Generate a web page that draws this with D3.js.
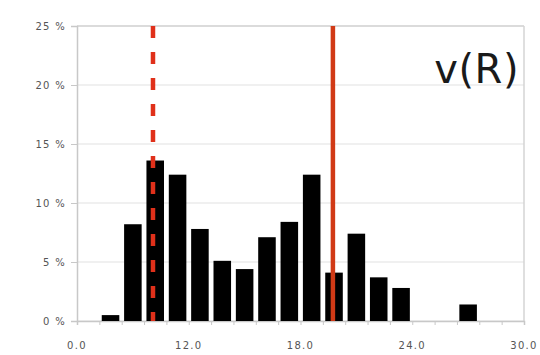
<!DOCTYPE html>
<html>
<head>
  <meta charset="utf-8">
  <title>v(R)</title>
  <script src="https://d3js.org/d3.v7.min.js"></script>
  <style>
    body { margin: 0; background: #fff; }
    svg { display: block; }
  </style>
</head>
<body>
  <div id="chart"></div>

  <script>
    // histogram bins (20 bins), share in percent
    var binShares = [0, 0.5, 8.2, 13.6, 12.4, 7.8, 5.1, 4.4, 7.1, 8.4,
                     12.4, 4.1, 7.4, 3.7, 2.8, 0, 0, 1.4, 0, 0];
    var yTicks = [0, 5, 10, 15, 20, 25];
    var xTickBins = [0, 5, 10, 15, 20];
    var xTickLabels = ['0.0', '12.0', '18.0', '24.0', '30.0'];
    // reference lines, in bin units: dashed then solid
    var refLines = [3.4, 11.45];
    var title = 'v(R)';

    var W = 540, H = 355;
    var margin = { top: 26, right: 16, bottom: 34, left: 77 };
    var width = W - margin.left - margin.right;
    var height = H - margin.top - margin.bottom;

    var svg = d3.select('#chart').append('svg')
      .attr('width', W)
      .attr('height', H);
    var g = svg.append('g')
      .attr('transform', 'translate(' + margin.left + ',' + margin.top + ')');

    var x = d3.scaleLinear().domain([0, binShares.length]).range([0, width]);
    var y = d3.scaleLinear().domain([0, 25]).range([height, 0]);

    var labelStyle = function(sel) {
      sel.attr('fill', '#555')
        .style('font-family', 'DejaVu Sans, sans-serif')
        .style('font-size', '10px')
        .style('letter-spacing', '1.3px');
    };

    // gridlines
    g.append('g')
      .selectAll('line')
      .data(yTicks)
      .enter().append('line')
      .attr('x1', 0).attr('x2', width)
      .attr('y1', function(d) { return y(d); })
      .attr('y2', function(d) { return y(d); })
      .attr('stroke', '#e2e2e2')
      .attr('stroke-width', 1.2);

    // frame: top and right edges
    g.append('line')
      .attr('x1', width).attr('x2', width)
      .attr('y1', 0).attr('y2', height)
      .attr('stroke', '#d4d4d4').attr('stroke-width', 1.5);
    g.append('line')
      .attr('x1', 0).attr('x2', width)
      .attr('y1', 0).attr('y2', 0)
      .attr('stroke', '#d4d4d4').attr('stroke-width', 1.5);

    // y axis
    var yAxis = g.append('g')
      .call(d3.axisLeft(y).tickValues(yTicks).tickSize(6).tickPadding(5)
        .tickFormat(function(d) { return d + ' %'; }));
    yAxis.select('.domain').attr('stroke', '#c8c8c8').attr('stroke-width', 1.5);
    yAxis.selectAll('.tick line').attr('stroke', '#c8c8c8');
    yAxis.selectAll('text').call(labelStyle);

    // x axis: small ticks at every bin edge, labels every fifth
    var xAxis = g.append('g')
      .attr('transform', 'translate(0,' + height + ')')
      .call(d3.axisBottom(x).tickValues(d3.range(binShares.length + 1))
        .tickSize(4).tickFormat(''));
    xAxis.select('.domain').attr('stroke', '#c8c8c8').attr('stroke-width', 1.5);
    xAxis.selectAll('.tick line').attr('stroke', '#c8c8c8');

    g.append('g')
      .selectAll('text')
      .data(xTickBins)
      .enter().append('text')
      .attr('x', function(d) { return x(d); })
      .attr('y', height + 28)
      .attr('text-anchor', 'middle')
      .call(labelStyle)
      .text(function(d, i) { return xTickLabels[i]; });

    // bars
    var barPad = 2.4;
    g.append('g')
      .selectAll('rect')
      .data(binShares.map(function(v, i) { return { i: i, v: v }; })
        .filter(function(d) { return d.v > 0; }))
      .enter().append('rect')
      .attr('x', function(d) { return x(d.i) + barPad; })
      .attr('width', function(d) { return x(d.i + 1) - x(d.i) - 2 * barPad; })
      .attr('y', function(d) { return y(d.v); })
      .attr('height', function(d) { return y(0) - y(d.v); })
      .attr('fill', '#000');

    // reference lines
    g.append('g')
      .selectAll('line')
      .data(refLines)
      .enter().append('line')
      .attr('x1', function(d) { return x(d); })
      .attr('x2', function(d) { return x(d); })
      .attr('y1', 0)
      .attr('y2', height)
      .attr('stroke', function(d, i) { return i === 0 ? '#e0301a' : '#d13a16'; })
      .attr('stroke-width', 4.5)
      .attr('stroke-dasharray', function(d, i) { return i === 0 ? '12,14' : null; });

    // title
    svg.append('text')
      .attr('x', 519)
      .attr('y', 83)
      .attr('text-anchor', 'end')
      .attr('fill', '#1a1a1a')
      .style('font-family', 'DejaVu Sans, sans-serif')
      .style('font-size', '40px')
      .style('letter-spacing', '0.5px')
      .text(title);
  </script>
</body>
</html>
